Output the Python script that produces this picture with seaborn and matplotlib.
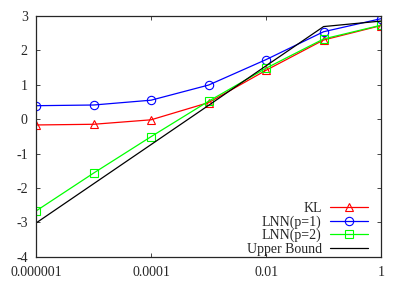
import numpy as np
import pandas as pd
import matplotlib
matplotlib.use('Agg')
import matplotlib.pyplot as plt
import seaborn as sns

# Data
x_vals = [1e-6, 1e-5, 1e-4, 1e-3, 1e-2, 1e-1, 1.0]
kl = [-0.17, -0.15, -0.02, 0.48, 1.42, 2.30, 2.72]
lnn_p1 = [0.39, 0.41, 0.55, 0.99, 1.73, 2.54, 2.92]
lnn_p2 = [-2.67, -1.57, -0.51, 0.52, 1.48, 2.33, 2.73]
upper = [-3.02, -1.88, -0.74, 0.40, 1.55, 2.69, 2.85]

x_ticks = [1e-6, 1e-4, 1e-2, 1]
x_ticklabels = ['0.000001', '0.0001', '0.01', '1']
y_ticks = [-4, -3, -2, -1, 0, 1, 2, 3]

sns.set_style('ticks')
plt.rcParams['font.family'] = ['Liberation Serif', 'DejaVu Serif']
plt.rcParams['xtick.direction'] = 'in'
plt.rcParams['ytick.direction'] = 'in'

fig, ax = plt.subplots(figsize=(4.05, 2.84), dpi=100)

series = [
    ('KL', kl, '#ff0000', '^'),
    ('LNN(p=1)', lnn_p1, '#0000ff', 'o'),
    ('LNN(p=2)', lnn_p2, '#00ff00', 's'),
    ('Upper Bound', upper, '#000000', None),
]
for name, vals, col, mk in series:
    df = pd.DataFrame({'x': x_vals, 'y': vals})
    sns.lineplot(data=df, x='x', y='y', ax=ax, color=col, marker=mk,
                 markersize=6, markerfacecolor='none', markeredgecolor=col,
                 markeredgewidth=0.8, linewidth=0.9, label=name)

ax.set_xscale('log')
ax.set_xlim(1e-6, 1)
ax.set_ylim(-4, 3)
ax.set_xticks(x_ticks)
ax.set_xticklabels(x_ticklabels)
ax.minorticks_off()
ax.set_yticks(y_ticks)
ax.set_yticklabels([str(v) for v in y_ticks])
ax.tick_params(axis='both', labelsize=10, top=True, right=True, length=3, width=0.6)
ax.tick_params(axis='x', pad=7)
ax.tick_params(axis='y', pad=6)
ax.set_xlabel('')
ax.set_ylabel('')
for sp in ax.spines.values():
    sp.set_linewidth(0.9)

ax.legend(loc='lower right', bbox_to_anchor=(0.985, -0.03), markerfirst=False,
          frameon=False, fontsize=10, handlelength=2.7, labelspacing=0.02,
          borderaxespad=0.2, handletextpad=0.6)

fig.subplots_adjust(left=0.089, right=0.941, top=0.944, bottom=0.096)
fig.savefig('out.png', dpi=100)
